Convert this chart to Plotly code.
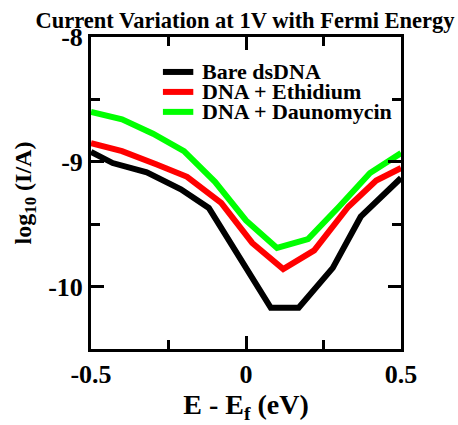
import plotly.graph_objects as go

# Data
x_bare = [-0.5, -0.43, -0.32, -0.21, -0.12, -0.02, 0.08, 0.17, 0.28, 0.37, 0.5]
y_bare = [-8.92, -9.01, -9.085, -9.22, -9.37, -9.77, -10.17, -10.17, -9.85, -9.44, -9.13]

x_eth = [-0.5, -0.4, -0.29, -0.19, -0.08, 0.02, 0.12, 0.22, 0.33, 0.42, 0.5]
y_eth = [-8.85, -8.915, -9.02, -9.12, -9.33, -9.65, -9.86, -9.71, -9.36, -9.15, -9.05]

x_dau = [-0.5, -0.4, -0.3, -0.2, -0.1, 0.0, 0.1, 0.2, 0.3, 0.4, 0.5]
y_dau = [-8.6, -8.66, -8.775, -8.915, -9.16, -9.47, -9.69, -9.62, -9.36, -9.09, -8.93]

names = ["Bare dsDNA", "DNA + Ethidium", "DNA + Daunomycin"]
colors = ["#000000", "#ff0000", "#00ff00"]

x_ticks = [-0.5, 0, 0.5]
x_ticktext = ["-0.5", "0", "0.5"]
y_ticks = [-10, -9, -8]
y_ticktext = ["-10", "-9", "-8"]

FONT = "Liberation Serif"
BOLD = dict(family=FONT, color="black", weight="bold")

fig = go.Figure()
for xs, ys, nm, c in zip([x_bare, x_eth, x_dau], [y_bare, y_eth, y_dau], names, colors):
    fig.add_trace(go.Scatter(x=xs, y=ys, mode="lines", name=nm, showlegend=False,
                             line=dict(color=c, width=6)))

# Legend drawn inside the plot (tight row spacing like the reference)
leg_y0, leg_dy = 0.888, 0.064
for i, (nm, c) in enumerate(zip(names, colors)):
    yy = leg_y0 - i * leg_dy
    fig.add_shape(type="line", xref="x domain", yref="y domain",
                  x0=0.232, x1=0.33, y0=yy, y1=yy, line=dict(color=c, width=6))
    fig.add_annotation(xref="x domain", yref="y domain", x=0.352, y=yy,
                       xanchor="left", yanchor="middle", text=nm, showarrow=False,
                       font=dict(size=22, **BOLD))

axis_common = dict(
    showgrid=False, zeroline=False, showline=True, linecolor="black", linewidth=3,
    mirror="allticks", ticks="inside", tickcolor="black", tickwidth=3, ticklen=13,
    tickfont=dict(size=26, **BOLD),
)

fig.update_xaxes(range=[-0.5, 0.5], tickvals=x_ticks, ticktext=x_ticktext,
                 minor=dict(dtick=0.25, tick0=0, ticks="inside", ticklen=9, tickwidth=3, tickcolor="black"),
                 title=dict(text="E - E<sub>f</sub> (eV)", font=dict(size=28, **BOLD), standoff=4),
                 **axis_common)
fig.update_yaxes(range=[-10.5, -8], tickvals=y_ticks, ticktext=y_ticktext,
                 minor=dict(dtick=0.5, tick0=-8, ticks="inside", ticklen=9, tickwidth=3, tickcolor="black"),
                 title=dict(text="log<sub>10</sub> (I/A)", font=dict(size=24, **BOLD), standoff=10),
                 **axis_common)

fig.update_layout(
    width=458, height=425,
    margin=dict(l=91, r=57, t=37, b=66),
    paper_bgcolor="white", plot_bgcolor="white",
    font=dict(family=FONT, color="black"),
    title=dict(text="Current Variation at 1V with Fermi Energy", x=0.535, xref="container",
               xanchor="center", y=0.972, yref="container", font=dict(size=22.5, **BOLD)),
    showlegend=False,
)

fig.write_html("out.html")
